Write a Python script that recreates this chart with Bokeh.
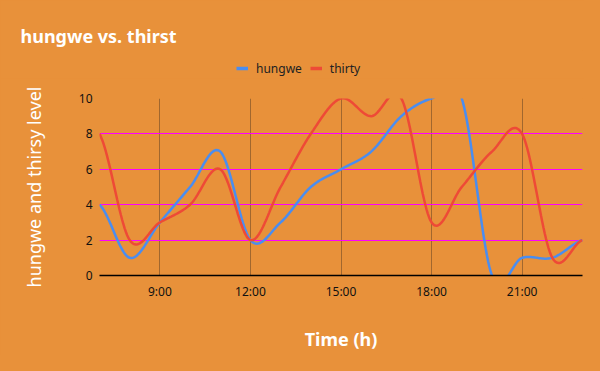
from bokeh.plotting import figure
from bokeh.models import Range1d, FixedTicker, Legend, LegendItem
from bokeh.layouts import column
from bokeh.embed import file_html
from bokeh.resources import INLINE

# ---- data ----
hours = [7, 8, 9, 10, 11, 12, 13, 14, 15, 16, 17, 18, 19, 20, 21, 22, 23]
hungwe = [4, 1, 3, 5, 7, 2, 3, 5, 6, 7, 9, 10, 10, 0, 1, 1, 2]
thirty = [8, 2, 3, 4, 6, 2, 5, 8, 10, 9, 10, 3, 5, 7, 8, 1, 2]
x_ticks = [9, 12, 15, 18, 21]
x_tick_labels = ["9:00", "12:00", "15:00", "18:00", "21:00"]
y_ticks = [0, 2, 4, 6, 8, 10]
series_names = ["hungwe", "thirty"]
series_colors = ["#4A8DF0", "#EE4A36"]

BG = "#E8913A"
FONT = "Noto Sans"


def smooth(xs, ys, n=24):
    """Catmull-Rom rendering of the series (curved line style)."""
    ox, oy = [], []
    k = len(xs)
    for i in range(k - 1):
        x0, x1 = xs[i], xs[i + 1]
        y0, y1 = ys[i], ys[i + 1]
        yp = ys[i - 1] if i > 0 else y0
        yn = ys[i + 2] if i + 2 < k else y1
        m0 = (y1 - yp) / 2.0
        m1 = (yn - y0) / 2.0
        for j in range(n):
            t = j / n
            h00 = 2 * t**3 - 3 * t**2 + 1
            h10 = t**3 - 2 * t**2 + t
            h01 = -2 * t**3 + 3 * t**2
            h11 = t**3 - t**2
            ox.append(x0 + (x1 - x0) * t)
            oy.append(h00 * y0 + h10 * m0 + h01 * y1 + h11 * m1)
    ox.append(xs[-1])
    oy.append(ys[-1])
    return ox, oy


# ---- header: title + legend ----
header = figure(width=584, height=78, output_backend="svg", toolbar_location=None,
                x_range=Range1d(0, 1), y_range=Range1d(0, 1),
                x_axis_location=None, y_axis_location=None,
                min_border_left=99, min_border_right=2, min_border_top=50,
                min_border_bottom=0, title="hungwe vs. thirst")
header.background_fill_color = BG
header.border_fill_color = BG
header.outline_line_color = None
header.grid.visible = False
header.title.text_color = "white"
header.title.text_font = FONT
header.title.text_font_size = "18px"
header.title.text_font_style = "bold"
header.title.align = "left"
header.title.offset = -79
header.title.standoff = 5

# legend proxies (single point each, nothing visible in the header frame)
proxies = [header.line(x=[hours[0]], y=[ys[0]], line_color=c, line_width=3.5)
           for ys, c in zip([hungwe, thirty], series_colors)]
legend = Legend(items=[LegendItem(label=n, renderers=[r]) for n, r in zip(series_names, proxies)],
                orientation="horizontal", location=(137, 0),
                background_fill_alpha=0, border_line_color=None,
                label_text_font=FONT, label_text_font_size="12px",
                label_text_color="#222222", glyph_width=12, glyph_height=20,
                spacing=8, padding=0, margin=0, label_standoff=8)
header.add_layout(legend, "center")

# ---- main chart ----
p = figure(width=584, height=277, output_backend="svg", toolbar_location=None,
           x_range=Range1d(hours[0], hours[-1]), y_range=Range1d(0, 10),
           min_border_left=99, min_border_right=2, min_border_top=20,
           min_border_bottom=80, title=None)
p.background_fill_color = BG
p.border_fill_color = BG
p.outline_line_color = None

p.xaxis.ticker = FixedTicker(ticks=x_ticks)
p.xaxis.major_label_overrides = {t: l for t, l in zip(x_ticks, x_tick_labels)}
p.yaxis.ticker = FixedTicker(ticks=y_ticks)
for ax in (p.xaxis, p.yaxis):
    ax.major_tick_line_color = None
    ax.minor_tick_line_color = None
    ax.major_label_text_font = FONT
    ax.major_label_text_font_size = "12px"
    ax.major_label_text_color = "#111111"
    ax.axis_label_text_font = FONT
    ax.axis_label_text_color = "white"
    ax.axis_label_text_font_size = "18px"
p.xaxis.axis_line_color = "black"
p.xaxis.axis_line_width = 1.5
p.yaxis.axis_line_color = None
p.xaxis.major_label_standoff = 1
p.yaxis.major_label_standoff = 1
p.xaxis.axis_label = "Time (h)"
p.xaxis.axis_label_text_font_style = "bold"
p.xaxis.axis_label_standoff = 24
p.yaxis.axis_label = "hungwe and thirsy level"
p.yaxis.axis_label_text_font_style = "normal"
p.yaxis.axis_label_standoff = 30

p.xgrid.grid_line_color = "#8E5C2C"
p.xgrid.grid_line_alpha = 0.8
p.ygrid.grid_line_color = "#FF00FF"
p.ygrid.grid_line_width = 1.2

for ys, c in zip([hungwe, thirty], series_colors):
    sx, sy = smooth(hours, ys)
    p.line(sx, sy, line_color=c, line_width=2.5)

layout = column(header, p, spacing=0)
html = file_html(layout, INLINE)
html = html.replace("<head>", "<head><style>html, body { background: #E8913A; }</style>", 1)
open("out.html", "w").write(html)
